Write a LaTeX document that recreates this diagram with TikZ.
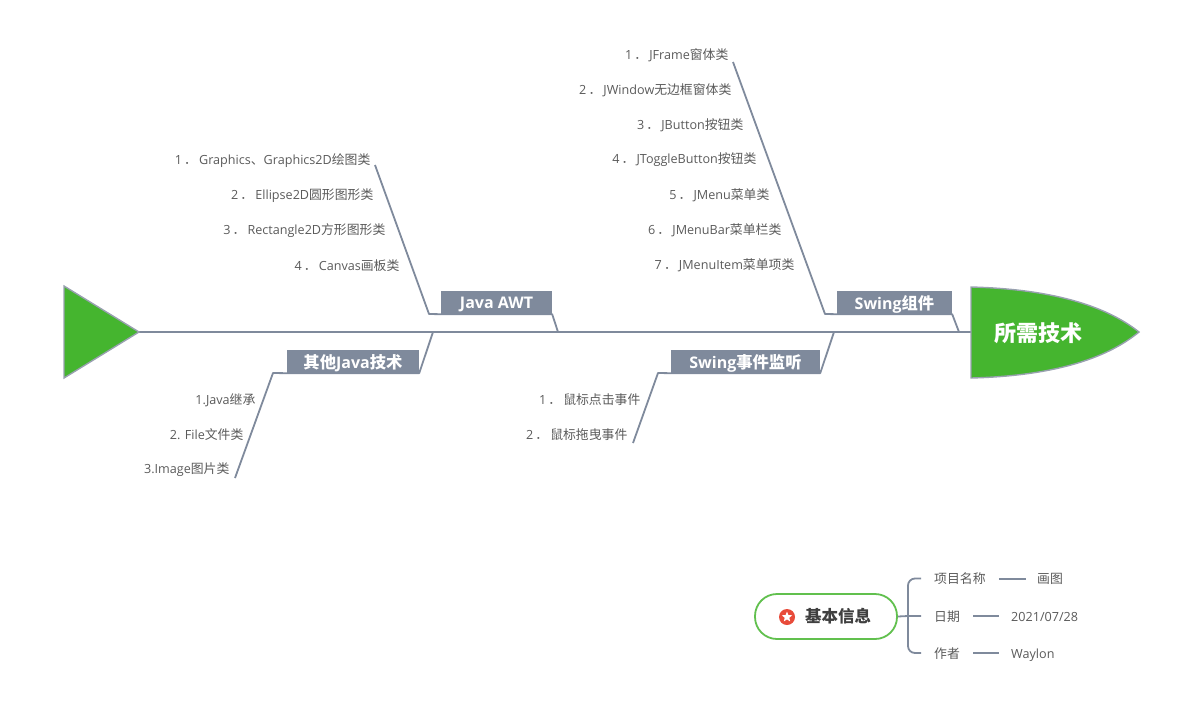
\documentclass[tikz,border=0pt]{standalone}
\usepackage{fontspec}
\setmainfont{Open Sans}
\newfontfamily\cjk{Noto Sans CJK SC}
\newfontfamily\cjkwide[Scale=1.02]{Noto Sans CJK SC}
\newcommand{\C}[1]{{\cjkwide #1}}
\newcommand{\D}{\,\C{．}\,}
\usetikzlibrary{shapes.geometric}
\definecolor{bone}{HTML}{7F8A9C}
\definecolor{fishgreen}{HTML}{45B52F}
\definecolor{itemtext}{HTML}{5A5A5A}
\definecolor{badgered}{HTML}{E84B3A}
\tikzset{
  x=1pt,y=-1pt,
  boneline/.style={draw=bone,line width=1.8pt,line join=round},
  fishbody/.style={fill=fishgreen,draw=bone!80,line width=1.4pt},
  catbox/.style={fill=bone,draw=none,text=white,font=\fontsize{16}{16}\selectfont\bfseries,inner sep=0pt,anchor=center,text depth=0pt},
  item/.style={anchor=east,text=itemtext,font=\fontsize{12.6}{12.6}\selectfont,inner sep=0pt,xshift=0.6pt,yshift=-0.8pt},
  infotext/.style={anchor=west,text=itemtext,font=\fontsize{12.6}{12.6}\selectfont,inner sep=0pt,text height=12pt,text depth=2pt},
  valuelink/.style={draw=bone,line width=2pt},
}
\begin{document}
\begin{tikzpicture}
\useasboundingbox (0,0) rectangle (1184,713);
% tail and head
\coordinate (tailA) at (64,286);
\coordinate (tailtip) at (139,332);
\coordinate (tailB) at (64,378);
\coordinate (headA) at (971,287);
\coordinate (headtip) at (1139,332);
\coordinate (headB) at (971,378);
\coordinate (headbase) at (971,332);
\draw[boneline] (tailtip) -- (headbase);
\draw[fishbody] (tailA) -- (tailtip) -- (tailB) -- cycle;
\draw[fishbody] (headA) .. controls (1050,289) and (1105,305) .. (headtip)
  .. controls (1105,360) and (1050,376) .. (headB) -- cycle;
\node[text=white,font=\cjk\fontsize{22}{22}\selectfont\bfseries,inner sep=0pt] (head) at (1038,333) {所需技术};
% category boxes
\node[catbox,minimum width=111pt,minimum height=23pt] (awt) at (496.5,302.5) {Java AWT};
\node[catbox,minimum width=115pt,minimum height=23pt] (swing) at (894.5,302.5) {Swing\C{组件}};
\node[catbox,minimum width=132pt,minimum height=23pt] (other) at (353,361.5) {\C{其他}Java\C{技术}};
\node[catbox,minimum width=149pt,minimum height=23pt] (event) at (745.5,361.5) {Swing\C{事件监听}};
% bone joints
\coordinate (awtJ) at (558,332);
\coordinate (awtK) at (429,314);
\coordinate (awtEnd) at (375,165);
\coordinate (swingJ) at (959,332);
\coordinate (swingK) at (825,314);
\coordinate (swingEnd) at (733,62);
\coordinate (otherJ) at (433,332);
\coordinate (otherK) at (273,373);
\coordinate (otherEnd) at (235,478);
\coordinate (eventJ) at (834,332);
\coordinate (eventK) at (658,373);
\coordinate (eventEnd) at (633,443);
\draw[boneline] (awtJ) -- (awt.south east) -- (awt.south west) -- (awtK) -- (awtEnd);
\draw[boneline] (swingJ) -- (swing.south east) -- (swing.south west) -- (swingK) -- (swingEnd);
\draw[boneline] (otherJ) -- (other.south east) -- (other.south west) -- (otherK) -- (otherEnd);
\draw[boneline] (eventJ) -- (event.south east) -- (event.south west) -- (eventK) -- (eventEnd);
% Java AWT items
\node[item] (a1) at (370,160) {1\D Graphics\C{、}Graphics2D\C{绘图类}};
\node[item] (a2) at (373,195) {2\D Ellipse2D\C{圆形图形类}};
\node[item] (a3) at (385,230) {3\D Rectangle2D\C{方形图形类}};
\node[item] (a4) at (399,265) {4\D Canvas\C{画板类}};
% Swing items
\node[item] (s1) at (728,54) {1\D JFrame\C{窗体类}};
\node[item] (s2) at (731,89) {2\D JWindow\C{无边框窗体类}};
\node[item] (s3) at (743,124) {3\D JButton\C{按钮类}};
\node[item] (s4) at (756,159) {4\D JToggleButton\C{按钮类}};
\node[item] (s5) at (769,194) {5\D JMenu\C{菜单类}};
\node[item] (s6) at (781,229) {6\D JMenuBar\C{菜单栏类}};
\node[item] (s7) at (794,264) {7\D JMenuItem\C{菜单项类}};
% Other items
\node[item] (o1) at (255,399) {1.Java\C{继承}};
\node[item] (o2) at (243,434) {2. File\C{文件类}};
\node[item] (o3) at (229,469) {3.Image\C{图片类}};
% Event items
\node[item] (e1) at (640,399) {1\D\C{鼠标点击事件}};
\node[item] (e2) at (627,434) {2\D\C{鼠标拖曳事件}};
% info block
\node[draw=fishgreen!85!white,line width=1.8pt,fill=white,rounded corners=22pt,minimum width=142pt,minimum height=45pt,inner sep=0pt] (info) at (826,616.5) {};
\node[circle,fill=badgered,minimum size=16pt,inner sep=0pt] (badge) at (787,617) {};
\node[star,star points=5,star point ratio=2.3,fill=white,minimum size=11pt,inner sep=0pt] (badgestar) at (787,617) {};
\node[anchor=center,text=black!75,font=\cjk\fontsize{16.5}{16.5}\selectfont\bfseries,inner sep=0pt] (infolabel) at (838,616.5) {基本信息};
\node[infotext] (k1) at (934,578.5) {\C{项目名称}};
\node[infotext] (k2) at (934,616) {\C{日期}};
\node[infotext] (k3) at (934,653) {\C{作者}};
\node[infotext] (v1) at (1037,578.5) {\C{画图}};
\node[infotext] (v2) at (1011,616) {2021/07/28};
\node[infotext] (v3) at (1011,653) {Waylon};
\coordinate (fork) at (908,616);
\coordinate (forkT) at (fork |- k1.west);
\coordinate (forkB) at (fork |- k3.west);
\draw[boneline] (info.east) -- (fork) -- ([xshift=-13pt]k2.west);
\draw[boneline,rounded corners=7pt] ([xshift=-13pt]k1.west) -- (forkT) -- (forkB) -- ([xshift=-13pt]k3.west);
\draw[valuelink] ([xshift=13pt]k1.east) -- ([xshift=-11pt]v1.west);
\draw[valuelink] ([xshift=13pt]k2.east) -- ([xshift=-12pt]v2.west);
\draw[valuelink] ([xshift=13pt]k3.east) -- ([xshift=-12pt]v3.west);
\end{tikzpicture}
\end{document}
